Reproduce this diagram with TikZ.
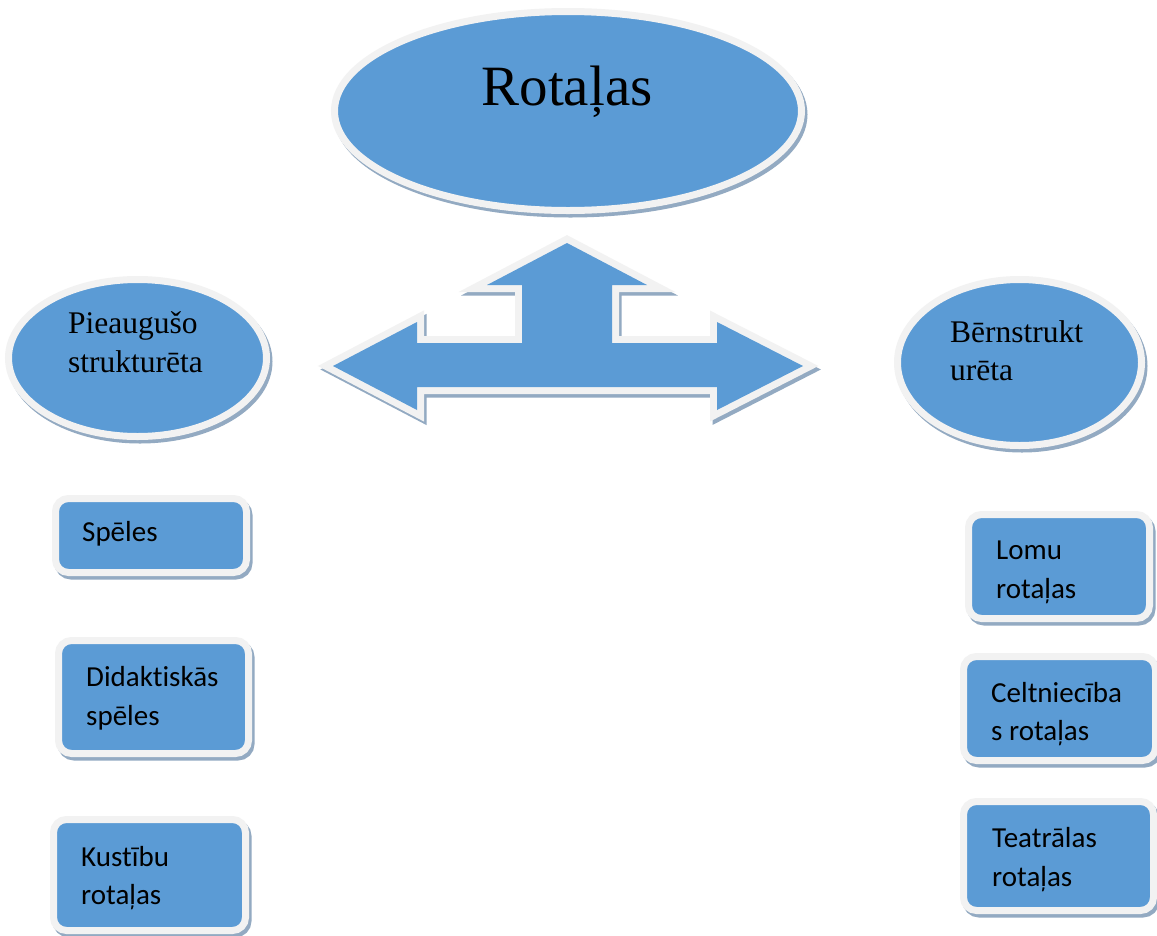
\documentclass[tikz,border=0pt]{standalone}
\usepackage{fontspec}
\setmainfont{Liberation Serif}
\newfontfamily\boxfont[Ligatures=NoCommon]{Carlito}
\usetikzlibrary{shapes.geometric}
\definecolor{fillblue}{HTML}{5B9BD5}
\definecolor{rimc}{HTML}{F2F2F2}
\definecolor{shadc}{HTML}{93AAC2}
\begin{document}
\begin{tikzpicture}[x=1pt,y=-1pt,
  shadowed/.style={preaction={draw=shadc, fill=shadc, line width=#1, transform canvas={shift={(2.5pt,-3.5pt)}}}},
  oval/.style={ellipse, shadowed=7pt, draw=rimc, fill=fillblue, line width=7pt, inner sep=0pt, outer sep=0pt},
  card/.style={rectangle, rounded corners=13pt, shadowed=7pt, draw=rimc, fill=fillblue, line width=7pt, inner sep=0pt, outer sep=0pt},
  ovaltext/.style={anchor=base west, inner sep=0pt, font=\fontsize{31.5}{39}\selectfont},
  cardtext/.style={anchor=base west, inner sep=0pt, font=\boxfont\fontsize{29}{38}\selectfont},
]
\useasboundingbox[fill=white] (0,0) rectangle (1157,935);

% big arrow
\path[shadowed=14pt, preaction={draw=rimc, line width=14pt}, fill=fillblue, miter limit=10]
  (567,243) -- (647,285) -- (612,285) -- (612,343) -- (717,343) -- (717,322)
  -- (803,366) -- (717,410) -- (717,387) -- (417,387) -- (417,410) -- (333,366)
  -- (417,322) -- (417,343) -- (522,343) -- (522,285) -- (487,285) -- cycle;

% ellipses
\node[oval, minimum width=467pt, minimum height=199pt] (top) at (568,111) {};
\node[anchor=base, inner sep=0pt, font=\fontsize{57}{60}\selectfont] (topt) at (567,105) {Rotaļas};

\node[oval, minimum width=258pt, minimum height=157pt] (left) at (137.5,358) {};
\node[ovaltext] (left1) at (68,333) {Pieaugušo};
\node[ovaltext] (left2) at (68,372) {strukturēta};

\node[oval, minimum width=244pt, minimum height=166pt] (right) at (1019.5,362.5) {};
\node[ovaltext] (right1) at (950,342) {Bērnstrukt};
\node[ovaltext] (right2) at (950,380) {urēta};

% left cards
\node[card, minimum width=191pt, minimum height=74pt] (c1) at (151,535.5) {};
\node[cardtext] (c1a) at (82,541) {Spēles};

\node[card, minimum width=190pt, minimum height=113pt] (c2) at (153.5,697) {};
\node[cardtext] (c2a) at (86,686) {Didaktiskās};
\node[cardtext] (c2b) at (86,725) {spēles};

\node[card, minimum width=192pt, minimum height=111pt] (c3) at (149.5,875) {};
\node[cardtext] (c3a) at (81,866) {Kustību};
\node[cardtext] (c3b) at (81,904) {rotaļas};

% right cards
\node[card, minimum width=181pt, minimum height=104pt] (d1) at (1059,566.5) {};
\node[cardtext] (d1a) at (996,559) {Lomu};
\node[cardtext] (d1b) at (996,598) {rotaļas};

\node[card, minimum width=192pt, minimum height=104pt] (d2) at (1059.5,708.5) {};
\node[cardtext] (d2a) at (991,702) {Celtniecība};
\node[cardtext] (d2b) at (991,740) {s rotaļas};

\node[card, minimum width=190pt, minimum height=109pt] (d3) at (1058.5,856) {};
\node[cardtext] (d3a) at (992,847) {Teatrālas};
\node[cardtext] (d3b) at (992,886) {rotaļas};
\end{tikzpicture}
\end{document}
